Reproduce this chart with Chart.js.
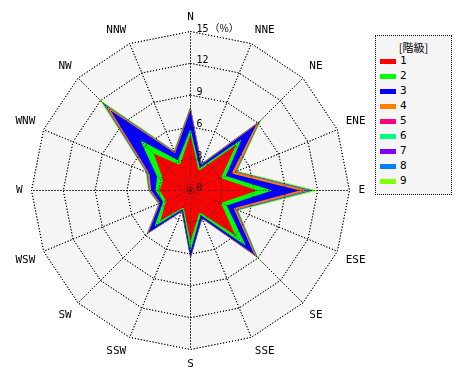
<!DOCTYPE html>
<html>
<head>
<meta charset="utf-8">
<script src="https://cdn.jsdelivr.net/npm/chart.js@4.4.0/dist/chart.umd.min.js"></script>
<style>
  html, body { margin: 0; padding: 0; background: #fff; }
  #wrap { position: relative; width: 470px; height: 380px; }
  #legend {
    position: absolute; left: 375px; top: 35px; width: 77px; height: 160px;
    box-sizing: border-box; border: 1px dotted #000; background: #f5f5f5;
    font: 11px "DejaVu Sans Mono", monospace; color: #000;
  }
  #legend .title { position: absolute; left: 0; right: 0; top: 3px; text-align: center;
    font: 11px "Noto Sans CJK JP", "DejaVu Sans Mono", monospace; }
  #legend .item { position: absolute; left: 4px; height: 12px; }
  #legend .sw { position: absolute; left: 0; top: 4px; width: 16px; height: 5px; }
  #legend .lb { position: absolute; left: 20px; top: -1px; }
</style>
</head>
<body>
<div id="wrap">
  <canvas id="rose" width="470" height="380"></canvas>
  <div id="legend"></div>
</div>
<script>
// wind directions, clockwise from north
const directions = ['N', 'NNE', 'NE', 'ENE', 'E', 'ESE', 'SE', 'SSE',
                    'S', 'SSW', 'SW', 'WSW', 'W', 'WNW', 'NW', 'NNW'];

// frequency (%) per class, not cumulative
const class1 = [5.3, 2.0, 6.1, 3.1, 6.3, 3.1, 6.0, 2.2, 4.8, 1.7, 4.0, 2.5, 2.9, 2.8, 4.9, 2.6];
const class2 = [0.5, 0.3, 0.7, 0.5, 1.4, 0.6, 1.4, 0.3, 0.9, 0.2, 0.8, 0.3, 0.4, 0.6, 1.8, 0.5];
const class3 = [1.8, 0.3, 2.0, 0.6, 2.6, 0.7, 1.1, 0.3, 0.6, 0.2, 0.8, 0.3, 0.4, 0.8, 4.0, 0.7];
const class4 = [0.15, 0.07, 0.3, 0.35, 0.6, 0.2, 0.2, 0.04, 0.07, 0.03, 0.1, 0.07, 0.12, 0.15, 0.5, 0.1];
const class5 = [0.04, 0.02, 0.06, 0.04, 0.17, 0.05, 0.06, 0.01, 0.02, 0.01, 0.03, 0.02, 0.03, 0.04, 0.15, 0.03];
const class6 = [0.04, 0.02, 0.06, 0.04, 0.18, 0.05, 0.07, 0.01, 0.02, 0.01, 0.03, 0.02, 0.03, 0.04, 0.16, 0.03];
const class7 = [0.03, 0.02, 0.05, 0.03, 0.15, 0.04, 0.06, 0.01, 0.02, 0.01, 0.03, 0.02, 0.02, 0.04, 0.14, 0.03];
const class8 = [0.04, 0.02, 0.06, 0.04, 0.17, 0.05, 0.06, 0.01, 0.02, 0.01, 0.03, 0.02, 0.03, 0.04, 0.15, 0.03];
const class9 = [0.1, 0.05, 0.17, 0.1, 0.43, 0.11, 0.15, 0.02, 0.05, 0.03, 0.08, 0.05, 0.07, 0.09, 0.4, 0.08];

const classNames = ['1', '2', '3', '4', '5', '6', '7', '8', '9'];
const classColors = ['#ff0000', '#00ff00', '#0000ff', '#ff8000', '#ff0080',
                     '#00ff80', '#8000ff', '#0080ff', '#80ff00'];
const legendTitle = '[階級]';

// radial axis ticks
const tickValues = [0, 3, 6, 9, 12, 15];
const unitLabel = '（%）';

const classes = [class1, class2, class3, class4, class5, class6, class7, class8, class9];

// stack the classes: each ring shows the running total up to that class
let running = directions.map(() => 0);
const datasets = classes.map((values, k) => {
  running = running.map((sum, i) => sum + values[i]);
  return {
    label: classNames[k],
    data: running.slice(),
    backgroundColor: classColors[k],
    borderWidth: 0,
    pointRadius: 0,
    fill: 'origin',
  };
});

const roseOverlay = {
  id: 'roseOverlay',
  beforeDraw(chart) {
    chart.ctx.save();
    chart.ctx.translate(0.5, 0.5);
  },
  afterDatasetsDraw(chart) {
    // dotted grid sits on top of the filled areas
    chart.scales.r.drawGrid(chart.chartArea);
  },
  afterDraw(chart) {
    const r = chart.scales.r;
    const ctx = chart.ctx;
    ctx.fillStyle = '#000';
    ctx.font = '10px "DejaVu Sans Mono", monospace';
    ctx.textAlign = 'left';
    ctx.textBaseline = 'alphabetic';
    tickValues.forEach(v => {
      const y = r.yCenter - r.getDistanceFromCenterForValue(v);
      ctx.fillText(String(v), r.xCenter + 6, y);
      if (v === tickValues[tickValues.length - 1]) {
        ctx.font = '10px "Noto Sans CJK JP", monospace';
        ctx.fillText(unitLabel, r.xCenter + 19, y);
        ctx.font = '10px "DejaVu Sans Mono", monospace';
      }
    });

    ctx.font = '11px "DejaVu Sans Mono", monospace';
    directions.forEach((d, i) => {
      const angle = i * 360 / directions.length;
      const p = r.getPointPosition(i, r.drawingArea + 9);
      ctx.textAlign = (angle === 0 || angle === 180) ? 'center' : angle < 180 ? 'left' : 'right';
      ctx.textBaseline = (angle === 90 || angle === 270) ? 'middle'
        : (angle < 90 || angle > 270) ? 'bottom' : 'top';
      ctx.fillText(d, p.x, p.y);
    });
    ctx.restore();
  }
};

const chart = new Chart(document.getElementById('rose'), {
  type: 'radar',
  data: { labels: directions, datasets: datasets },
  options: {
    responsive: false,
    animation: false,
    layout: { padding: { left: 31, right: 121, top: 31, bottom: 31 } },
    plugins: {
      legend: { display: false },
      tooltip: { enabled: false },
    },
    scales: {
      r: {
        min: 0,
        max: 15,
        backgroundColor: '#f5f5f5',
        ticks: { display: false, stepSize: 3 },
        pointLabels: { display: false },
        grid: { color: '#000', lineWidth: 1 },
        border: { dash: [1, 2] },
        angleLines: { color: '#000', lineWidth: 1, borderDash: [1, 2] },
      },
    },
  },
  plugins: [roseOverlay],
});

// legend box
const legendEl = document.getElementById('legend');
const title = document.createElement('div');
title.className = 'title';
title.textContent = legendTitle;
legendEl.appendChild(title);
chart.data.datasets.forEach((ds, k) => {
  const item = document.createElement('div');
  item.className = 'item';
  item.style.top = (19 + k * 15) + 'px';
  item.innerHTML = '<span class="sw" style="background:' + ds.backgroundColor + '"></span>' +
                   '<span class="lb">' + ds.label + '</span>';
  legendEl.appendChild(item);
});
</script>
</body>
</html>
